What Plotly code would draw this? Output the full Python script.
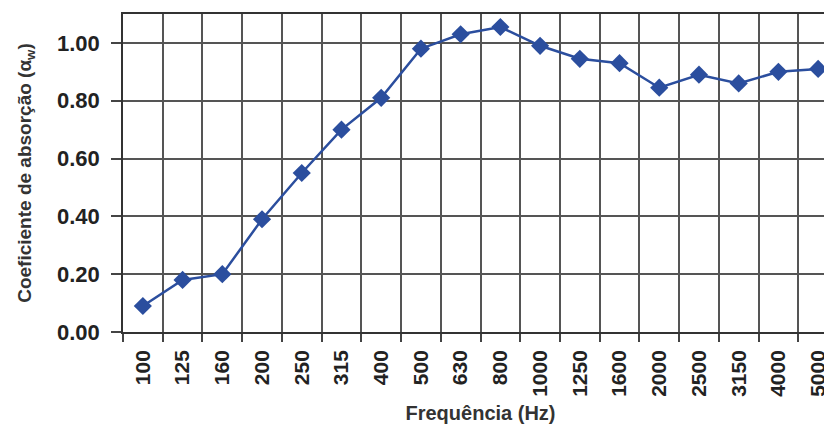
import plotly.graph_objects as go

freqs = ["100", "125", "160", "200", "250", "315", "400", "500", "630", "800",
         "1000", "1250", "1600", "2000", "2500", "3150", "4000", "5000"]
alpha = [0.09, 0.18, 0.20, 0.39, 0.55, 0.70, 0.81, 0.98, 1.03, 1.055,
         0.99, 0.945, 0.93, 0.845, 0.89, 0.86, 0.90, 0.91]
y_ticks = [0.0, 0.2, 0.4, 0.6, 0.8, 1.0]
y_labels = ["0.00", "0.20", "0.40", "0.60", "0.80", "1.00"]

fig = go.Figure(go.Scatter(
    x=freqs, y=alpha, mode="lines+markers",
    line=dict(color="#2b4e9e", width=2.5),
    marker=dict(symbol="diamond", size=14, color="#2b4e9e"),
))

fig.update_layout(
    width=832, height=425,
    margin=dict(l=115, r=2, t=6, b=101),
    paper_bgcolor="white", plot_bgcolor="white",
    showlegend=False,
    font=dict(family="Liberation Sans, Arial", color="#222"),
)
fig.update_xaxes(
    type="category", range=[-0.5, 17.5], automargin=False,
    tickvals=freqs, ticktext=["<b>%s</b>" % f for f in freqs],
    tickson="boundaries", showgrid=True, gridcolor="#555", gridwidth=1.5,
    ticks="outside", ticklen=8, tickcolor="#444", tickwidth=1.5,
    ticklabelstandoff=8,
    tickangle=-90, tickfont=dict(size=21, color="#222"),
    showline=True, linecolor="#333", linewidth=1.5, mirror=True,
    title=dict(text="<b>Frequência (Hz)</b>", font=dict(size=20, color="#333"), standoff=10),
)
fig.update_yaxes(
    range=[0, 1.1], automargin=False,
    tickvals=y_ticks, ticktext=["<b>%s</b>" % t for t in y_labels],
    showgrid=True, gridcolor="#555", gridwidth=1.5, zeroline=False,
    ticks="outside", ticklen=10, tickcolor="#444", tickwidth=1.5,
    ticklabelstandoff=7,
    tickfont=dict(size=22, color="#222"),
    showline=True, linecolor="#333", linewidth=1.5,
    title=dict(text="<b>Coeficiente de absorção (α<sub>w</sub>)</b>",
               font=dict(size=19, color="#333"), standoff=20),
)

fig.write_html("out.html")
